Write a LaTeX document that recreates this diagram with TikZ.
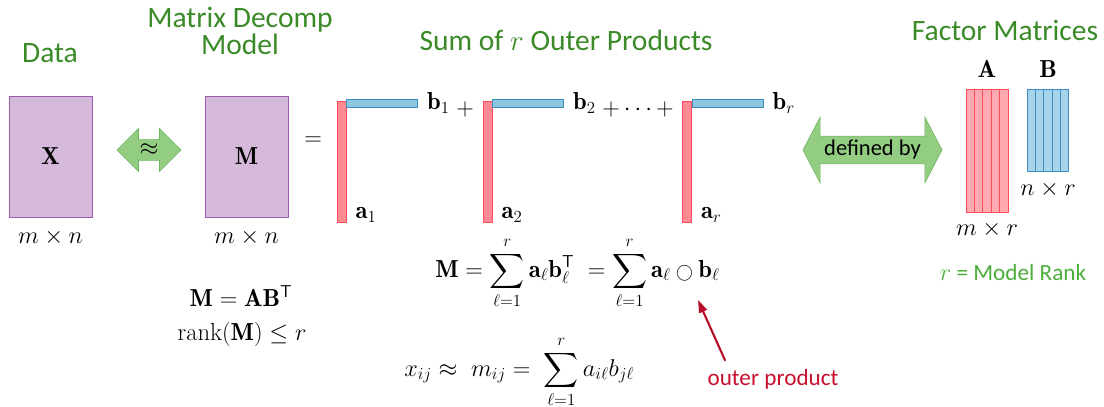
\documentclass[tikz,border=0pt]{standalone}
\usepackage{amsmath}
\usepackage{fontspec}
\newfontfamily\calibri{Carlito}
\usepackage{tikz}
\usetikzlibrary{shapes.arrows, arrows.meta, positioning}
\definecolor{clrHead}{HTML}{3A8A28}
\definecolor{clrRank}{HTML}{4CAF3A}
\definecolor{clrData}{HTML}{D5B9DB}
\definecolor{clrDataLine}{HTML}{9C5BB0}
\definecolor{clrArrow}{HTML}{93CD82}
\definecolor{clrArrowLine}{HTML}{6DB55B}
\definecolor{clrVecA}{HTML}{FF8A93}
\definecolor{clrVecALine}{HTML}{FF4B5A}
\definecolor{clrVecB}{HTML}{8CC7E0}
\definecolor{clrVecBLine}{HTML}{3A8EC0}
\definecolor{clrFacA}{HTML}{FFA9B1}
\definecolor{clrFacALine}{HTML}{FF4B5A}
\definecolor{clrFacB}{HTML}{A8D4E9}
\definecolor{clrFacBLine}{HTML}{3A8EC0}
\definecolor{clrOuter}{HTML}{C8102E}
\tikzset{
  heading/.style = {font=\calibri\fontsize{21}{19.5}\selectfont, text=clrHead, align=center},
  mathlbl/.style = {font=\fontsize{17.5}{20}\selectfont, inner sep=0pt},
  note/.style = {font=\calibri\fontsize{16.5}{19}\selectfont, inner sep=0pt},
  datamat/.style = {rectangle, draw=clrDataLine, fill=clrData, minimum width=2.075cm,
                    minimum height=3.025cm, font=\fontsize{17.5}{20}\selectfont},
  dblarrow/.style = {double arrow, draw=clrArrowLine, fill=clrArrow, inner sep=1pt,
                     font=\calibri\fontsize{16}{19}\selectfont},
  ptr/.style = {-{Triangle[length=9pt, width=6pt]}, line width=1.5pt, draw=clrOuter!90!black},
}

\begin{document}
\begin{tikzpicture}[
  x=0.025cm, y=-0.025cm,
  vecA/.style = {rectangle, draw=clrVecALine, fill=clrVecA, minimum width=0.225cm,
                 minimum height=3.025cm, inner sep=0pt},
  vecB/.style = {rectangle, draw=clrVecBLine, fill=clrVecB, minimum width=1.775cm,
                 minimum height=0.2cm, inner sep=0pt},
  facmat/.style = {rectangle, draw=#1Line, fill=#1, inner sep=0pt},
]
\useasboundingbox (0,0) rectangle (1104,407);

% Headings
\node[heading] (tData)   at (50,53)   {Data};
\node[heading] (tModel)  at (240,31)  {Matrix Decomp\\Model};
\node[heading] (tSum)    at (566,40)  {Sum of $r$ Outer Products};
\node[heading] (tFactor) at (1005,30) {Factor Matrices};

% Data and model
\node[datamat] (X) at (50.5,156.5)  {$\mathbf{X}$};
\node[datamat] (M) at (246.5,156.5) {$\mathbf{M}$};
\node[mathlbl, below=0.3cm of X] (Xdim) {$m \times n$};
\node[mathlbl, below=0.3cm of M] (Mdim) {$m \times n$};
\node[dblarrow, minimum height=1.6cm, minimum width=1.075cm,
      double arrow head extend=0.2cm, double arrow tip angle=90] (approx) at (149,150) {$\approx$};
\node[mathlbl] (eqsign) at (313,141) {$=$};

% Outer products
\node[vecA] (a1) at (341.5,161.5) {};
\node[vecB, anchor=north west] (b1) at ([yshift=0.05cm]a1.north east) {};
\node[mathlbl, anchor=west] (lb1) at ([xshift=0.225cm]b1.east) {$\mathbf{b}_1$};
\node[mathlbl, anchor=south west] (la1) at ([xshift=0.225cm]a1.south east) {$\mathbf{a}_1$};
\node[mathlbl] (plus1) at (465,109) {$+$};

\node[vecA] (a2) at (487.5,161.5) {};
\node[vecB, anchor=north west] (b2) at ([yshift=0.05cm]a2.north east) {};
\node[mathlbl, anchor=west] (lb2) at ([xshift=0.225cm]b2.east) {$\mathbf{b}_2$};
\node[mathlbl, anchor=south west] (la2) at ([xshift=0.225cm]a2.south east) {$\mathbf{a}_2$};
\node[mathlbl] (plus2) at (638,109) {$+\cdots+$};

\node[vecA] (ar) at (687,161.5) {};
\node[vecB, anchor=north west] (br) at ([yshift=0.05cm]ar.north east) {};
\node[mathlbl, anchor=west] (lbr) at ([xshift=0.225cm]br.east) {$\mathbf{b}_r$};
\node[mathlbl, anchor=south west] (lar) at ([xshift=0.225cm]ar.south east) {$\mathbf{a}_r$};

% defined by
\node[dblarrow, minimum height=3.475cm, minimum width=1.65cm,
      double arrow head extend=0.39cm, double arrow tip angle=125] (defby) at (872.5,150) {defined by};

% Factor matrices
\node[facmat=clrFacA, minimum width=1.05cm, minimum height=3.075cm] (A) at (987,150.5) {};
\node[facmat=clrFacB, minimum width=1.025cm, minimum height=2.05cm, anchor=north west]
     (B) at ([xshift=0.475cm]A.north east) {};
\foreach \k in {1,...,4} {
  \draw[clrVecALine] ([xshift=\k*0.21cm]A.north west) -- ([xshift=\k*0.21cm]A.south west);
  \draw[clrVecBLine] ([xshift=\k*0.205cm]B.north west) -- ([xshift=\k*0.205cm]B.south west);
}
\node[mathlbl, above=0.27cm of A] (lA) {$\mathbf{A}$};
\node[mathlbl, above=0.27cm of B] (lB) {$\mathbf{B}$};
\node[mathlbl, below=0.22cm of A] (Adim) {$m \times r$};
\node[mathlbl, below=0.24cm of B] (Bdim) {$n \times r$};
\node[note, text=clrRank] (rank) at (1013,273) {$r$ = Model Rank};

% Equations
\node[mathlbl] (eqAB)   at (241,296) {$\mathbf{M} = \mathbf{A}\mathbf{B}^{\mathsf{T}}$};
\node[mathlbl] (eqRank) at (242,334) {$\operatorname{rank}(\mathbf{M}) \le r$};
\node[mathlbl, anchor=west] (eqSum) at (435,273)
  {$\displaystyle \mathbf{M} = \sum_{\ell=1}^{r} \mathbf{a}_\ell\mathbf{b}_\ell^{\mathsf{T}} \; = \sum_{\ell=1}^{r}\mathbf{a}_\ell \mathbin{\scriptstyle\bigcirc} \mathbf{b}_\ell$};
\node[mathlbl, anchor=west] (eqElem) at (404,372)
  {$\displaystyle x_{ij} \approx\; m_{ij} = \; \sum_{\ell=1}^{r} a_{i\ell} b_{j\ell}$};

% outer product pointer
\node[note, text=clrOuter] (outer) at (773,379) {outer product};
\coordinate (circ) at (698,300);
\draw[ptr] ([xshift=0.45cm, yshift=0.2cm]outer.north west) -- (circ);
\end{tikzpicture}
\end{document}
